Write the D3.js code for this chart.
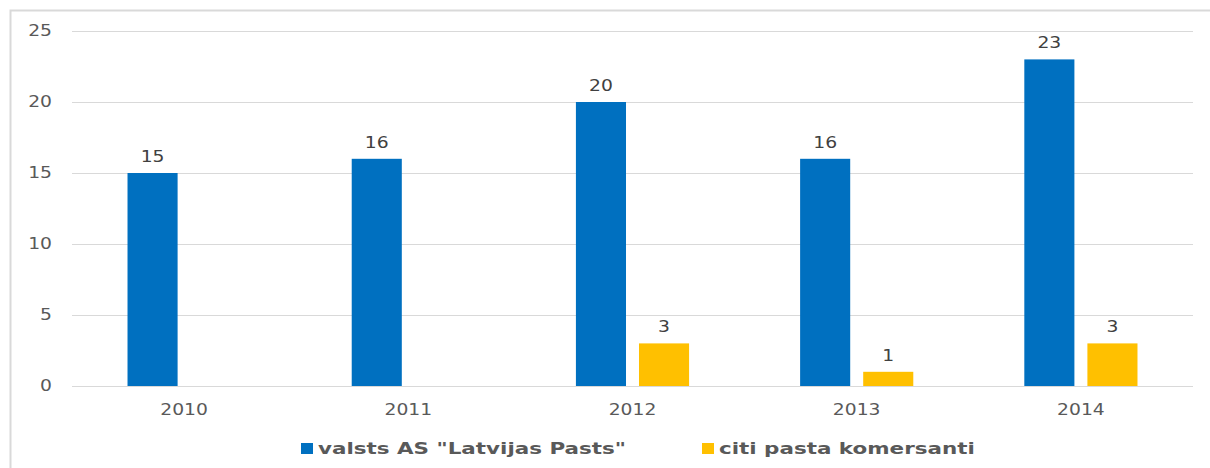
<!DOCTYPE html>
<html>
<head>
<meta charset="utf-8">
<script src="https://cdnjs.cloudflare.com/ajax/libs/d3/7.8.5/d3.min.js"></script>
<style>
  html, body { margin: 0; padding: 0; background: #fff; }
  svg { display: block; }
  text { font-family: Verdana, "DejaVu Sans", sans-serif; }
</style>
</head>
<body>
<svg id="chart"></svg>
<script>
"use strict";

var years = ["2010", "2011", "2012", "2013", "2014"];
var seriesNames = ["valsts AS \"Latvijas Pasts\"", "citi pasta komersanti"];
var latvijasPasts = [15, 16, 20, 16, 23];
var citiKomersanti = [0, 0, 3, 1, 3];
var yTicks = [0, 5, 10, 15, 20, 25];
var colors = ["#0070C0", "#FFC000"];

var width = 1210;
var height = 468;
var margin = { top: 31, right: 17, bottom: 82, left: 72 };
var stretch = 1.25; // reference text is horizontally stretched

var svg = d3.select("#chart").attr("width", width).attr("height", height);

// outer frame, clipped by the picture on the right and bottom
svg.append("rect").attr("x", 10.5).attr("y", 10.5).attr("width", 1240).attr("height", 500)
  .attr("fill", "none").attr("stroke", "#d9d9d9").attr("stroke-width", 2);

var plotW = width - margin.left - margin.right;
var plotH = height - margin.top - margin.bottom;

var x0 = d3.scaleBand().domain(years).range([0, plotW]);
var x1 = d3.scaleBand().domain(seriesNames).range([0, x0.bandwidth()]).paddingInner(0.206).paddingOuter(0.88);
var y = d3.scaleLinear().domain([0, 25]).range([plotH, 0]);

var G = svg.append("g").attr("transform", "translate(" + margin.left + "," + margin.top + ")");

// gridlines
G.append("g").selectAll("line").data(yTicks).enter().append("line")
  .attr("x1", 0).attr("x2", plotW)
  .attr("y1", function (d) { return Math.round(y(d)) + 0.5; })
  .attr("y2", function (d) { return Math.round(y(d)) + 0.5; })
  .attr("stroke", "#d9d9d9").attr("stroke-width", 1);

function stretchedText(sel, tx, ty) {
  return sel.attr("transform", function (d, i) {
    return "translate(" + tx(d, i) + "," + ty(d, i) + ") scale(" + stretch + ",1)";
  });
}

// y tick labels
stretchedText(G.append("g").selectAll("text").data(yTicks).enter().append("text"),
  function () { return -20; },
  function (d) { return y(d) + 5; })
  .attr("text-anchor", "end").attr("font-size", 15).attr("fill", "#595959")
  .text(function (d) { return d; });

// x tick labels
stretchedText(G.append("g").selectAll("text").data(years).enter().append("text"),
  function (d) { return x0(d) + x0.bandwidth() / 2; },
  function () { return plotH + 29; })
  .attr("text-anchor", "middle").attr("font-size", 15).attr("fill", "#595959")
  .text(function (d) { return d; });

var table = years.map(function (yr, i) {
  return { year: yr, values: [latvijasPasts[i], citiKomersanti[i]] };
});

var groups = G.selectAll(".grp").data(table).enter().append("g").attr("class", "grp")
  .attr("transform", function (d) { return "translate(" + x0(d.year) + ",0)"; });

var cells = groups.selectAll("g").data(function (d) {
  return d.values.map(function (v, i) { return { name: seriesNames[i], value: v, idx: i }; })
    .filter(function (c) { return c.value > 0; });
}).enter().append("g");

cells.append("rect")
  .attr("x", function (d) { return x1(d.name); })
  .attr("y", function (d) { return y(d.value); })
  .attr("width", x1.bandwidth())
  .attr("height", function (d) { return plotH - y(d.value); })
  .attr("fill", function (d) { return colors[d.idx]; });

stretchedText(cells.append("text"),
  function (d) { return x1(d.name) + x1.bandwidth() / 2; },
  function (d) { return y(d.value) - 11; })
  .attr("text-anchor", "middle").attr("font-size", 15).attr("fill", "#404040")
  .text(function (d) { return d.value; });

// legend
var legendX = [301, 702];
var legend = svg.append("g").selectAll("g").data(seriesNames).enter().append("g")
  .attr("transform", function (d, i) { return "translate(" + legendX[i] + ",443)"; });
legend.append("rect").attr("width", 12).attr("height", 11)
  .attr("fill", function (d, i) { return colors[i]; });
legend.append("text")
  .attr("transform", "translate(17,11) scale(1.3,1)")
  .attr("font-size", 16.5).attr("font-weight", "bold").attr("fill", "#595959")
  .text(function (d) { return d; });
</script>
</body>
</html>
